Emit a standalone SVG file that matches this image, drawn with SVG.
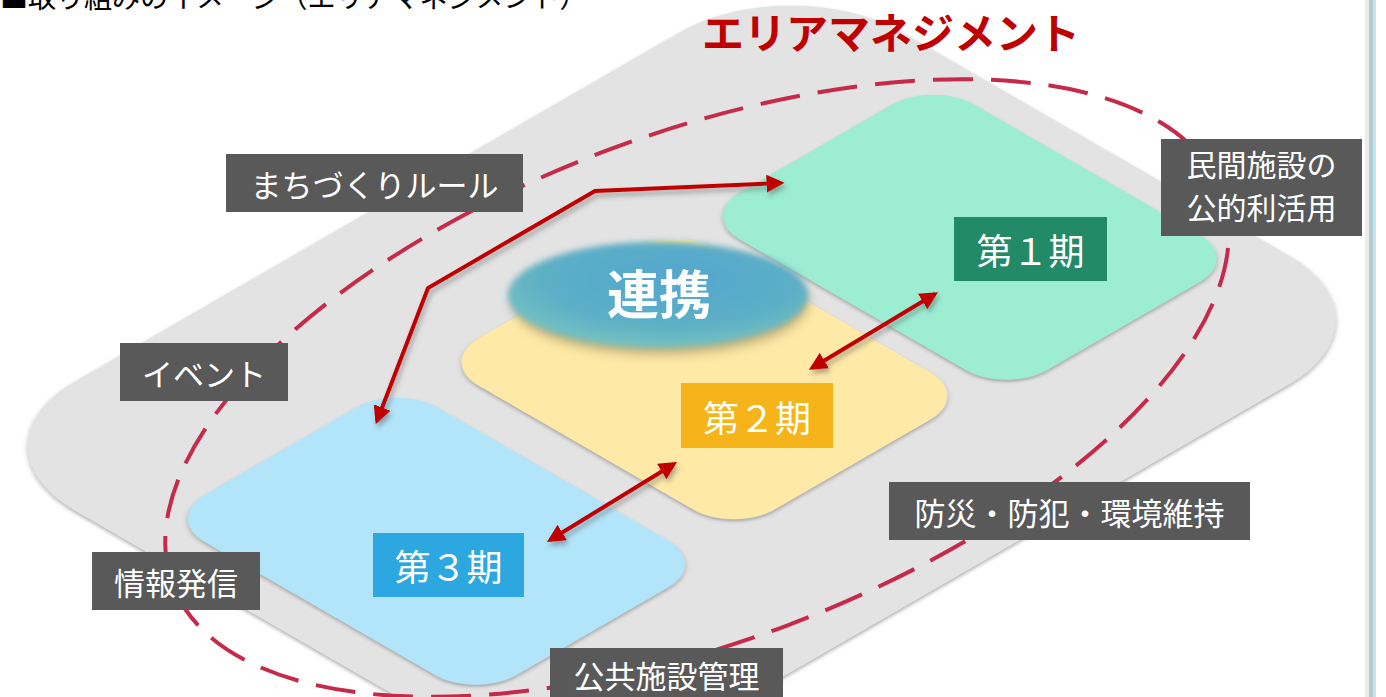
<svg xmlns="http://www.w3.org/2000/svg" width="1386" height="697" viewBox="0 0 1386 697">
<defs>
<style>
.lbl{fill:#595959}
.lt{fill:#fff;font-family:"Noto Sans CJK JP","Noto Sans CJK SC",sans-serif;font-size:31px;text-anchor:middle;dominant-baseline:central}
.pt{fill:#fff;font-family:"Noto Sans CJK JP","Noto Sans CJK SC",sans-serif;font-size:36px;text-anchor:middle;dominant-baseline:central}
.arr{fill:none;stroke:#C00000;stroke-width:4;marker-end:url(#ah);marker-start:url(#ahs)}
</style>
<filter id="sh" x="-10%" y="-10%" width="120%" height="120%">
<feDropShadow dx="2" dy="2" stdDeviation="2" flood-color="#8a8a8a" flood-opacity="0.7"/>
</filter>
<filter id="ash" x="-20%" y="-20%" width="140%" height="140%">
<feDropShadow dx="2" dy="4" stdDeviation="2.5" flood-color="#555" flood-opacity="0.45"/>
</filter>
<filter id="blur" x="-20%" y="-40%" width="140%" height="180%">
<feGaussianBlur stdDeviation="3"/>
</filter>
<filter id="blur2" x="-20%" y="-40%" width="140%" height="180%">
<feGaussianBlur stdDeviation="6"/>
</filter>
<radialGradient id="eg" cx="0.55" cy="0.35" r="0.7">
<stop offset="0" stop-color="#55A6CE"/>
<stop offset="0.6" stop-color="#5BAFC6"/>
<stop offset="1" stop-color="#7CC6C0"/>
</radialGradient>
<marker id="ah" viewBox="0 0 10 10" refX="8" refY="5" markerWidth="4.5" markerHeight="4.5" orient="auto" markerUnits="strokeWidth">
<path d="M0,0 L10,5 L0,10 z" fill="#C00000"/>
</marker>
<marker id="ahs" viewBox="0 0 10 10" refX="8" refY="5" markerWidth="4.5" markerHeight="4.5" orient="auto-start-reverse" markerUnits="strokeWidth">
<path d="M0,0 L10,5 L0,10 z" fill="#C00000"/>
</marker>
</defs>
<rect width="1386" height="697" fill="#fff"/>
<text x="0" y="8" font-family="'Noto Sans CJK JP','Noto Sans CJK SC',sans-serif" font-size="28" fill="#000">■取り組みのイメージ（エリアマネジメント）</text>
<g id="base">
<rect x="0" y="0" width="704" height="956" rx="128" fill="#E3E3E3" filter="url(#sh)" transform="matrix(0.866,0.5,-0.866,0.5,791,-32)"/>
</g>
<g id="tile1">
<rect x="0" y="0" width="355" height="270" rx="47" fill="#9CEDD2" filter="url(#sh)" transform="matrix(0.866,0.5,-0.866,0.5,933,81)"/>
</g>
<g id="tile2">
<rect x="0" y="0" width="342" height="274" rx="47" fill="#FEE9A7" filter="url(#sh)" transform="matrix(0.866,0.5,-0.866,0.5,675,225)"/>
</g>
<g id="tile3">
<rect x="0" y="0" width="360" height="269" rx="47" fill="#B2E4FA" filter="url(#sh)" transform="matrix(0.866,0.5,-0.866,0.5,397,384)"/>
</g>
<g id="renkei">
<ellipse cx="660" cy="302" rx="148" ry="52" fill="#8C7A4A" opacity="0.55" filter="url(#blur2)"/>
<ellipse cx="658" cy="295" rx="150" ry="53" fill="url(#eg)" filter="url(#blur)"/>
<text x="659" y="291" fill="#fff" font-family="'Noto Sans CJK JP','Noto Sans CJK SC',sans-serif" font-size="52" font-weight="bold" text-anchor="middle" dominant-baseline="central">連携</text>
</g>
<g id="area-boundary">
<ellipse cx="697" cy="388" rx="560" ry="254" transform="rotate(-20.6 697 388)" fill="none" stroke="#C62A4A" stroke-width="4" stroke-dasharray="40 18"/>
</g>
<g id="connectors" filter="url(#ash)">
<polyline class="arr" points="377,421 428,288 595,191 781,183"/>
<line class="arr" x1="812" y1="368" x2="935" y2="294"/>
<line class="arr" x1="550" y1="540" x2="674" y2="464"/>
</g>
<g id="title">
<text x="891" y="30" fill="#C00000" font-family="'Noto Sans CJK JP','Noto Sans CJK SC',sans-serif" font-size="42" font-weight="bold" text-anchor="middle" dominant-baseline="central">エリアマネジメント</text>
</g>
<g id="label-rule"><rect class="lbl" x="226" y="154" width="297" height="58"/><text class="lt" x="374.5" y="183">まちづくりルール</text></g>
<g id="label-private"><rect class="lbl" x="1161" y="139" width="201" height="97"/><text class="lt" x="1261.5" y="163" style="font-size:30px">民間施設の</text><text class="lt" x="1261.5" y="206" style="font-size:30px">公的利活用</text></g>
<g id="phase1"><rect x="954" y="217" width="153" height="64" fill="#238A67"/><text class="pt" x="1030.5" y="249">第１期</text></g>
<g id="phase2"><rect x="681" y="383" width="152" height="65" fill="#F5B41A"/><text class="pt" x="757" y="415.5">第２期</text></g>
<g id="phase3"><rect x="373" y="533" width="151" height="64" fill="#2DA7E0"/><text class="pt" x="448.5" y="565">第３期</text></g>
<g id="label-event"><rect class="lbl" x="120" y="343" width="168" height="58"/><text class="lt" x="204" y="372">イベント</text></g>
<g id="label-info"><rect class="lbl" x="92" y="552" width="168" height="58"/><text class="lt" x="176" y="581">情報発信</text></g>
<g id="label-safety"><rect class="lbl" x="889" y="482" width="361" height="58"/><text class="lt" x="1069.5" y="511">防災・防犯・環境維持</text></g>
<g id="label-public"><rect class="lbl" x="550" y="648" width="233" height="60"/><text class="lt" x="666.5" y="674">公共施設管理</text></g>
<g id="edge-strip">
<rect x="1365" y="0" width="4" height="697" fill="#ececec"/>
<rect x="1369" y="0" width="2" height="697" fill="#c4c4c4"/>
<rect x="1371" y="0" width="2" height="697" fill="#8fdde6"/>
<rect x="1373" y="0" width="3" height="697" fill="#dcdcdc"/>
</g>
</svg>
